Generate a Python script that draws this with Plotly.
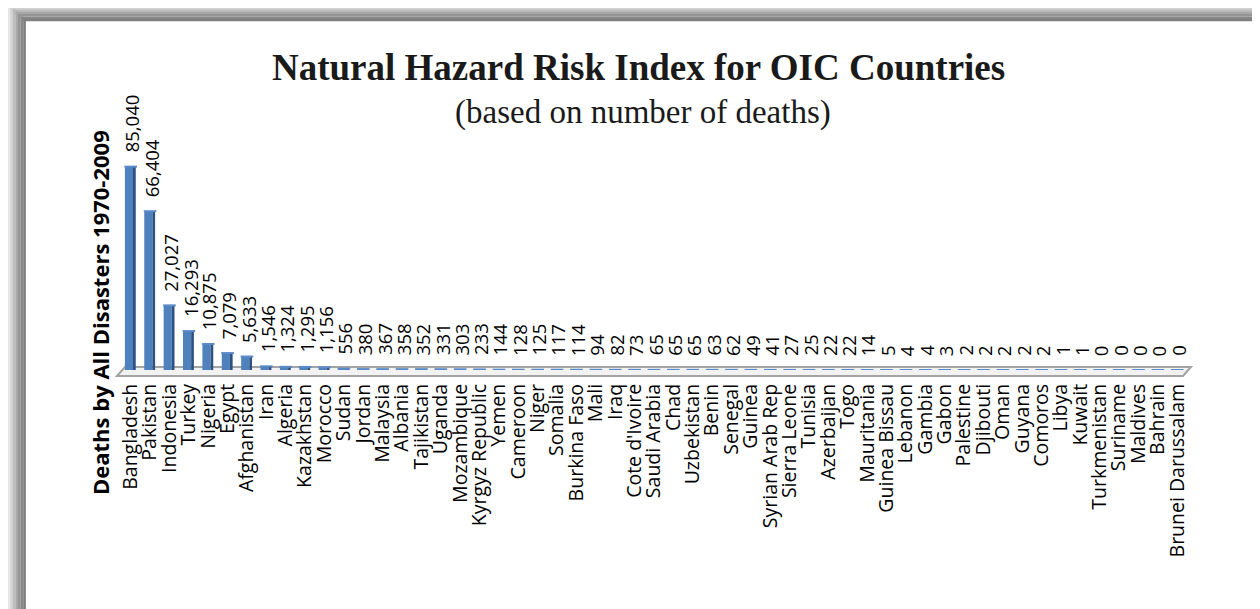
import plotly.graph_objects as go

countries = ["Bangladesh", "Pakistan", "Indonesia", "Turkey", "Nigeria", "Egypt",
             "Afghanistan", "Iran", "Algeria", "Kazakhstan", "Morocco", "Sudan",
             "Jordan", "Malaysia", "Albania", "Tajikistan", "Uganda", "Mozambique",
             "Kyrgyz Republic", "Yemen", "Cameroon", "Niger", "Somalia", "Burkina Faso",
             "Mali", "Iraq", "Cote d'Ivoire", "Saudi Arabia", "Chad", "Uzbekistan",
             "Benin", "Senegal", "Guinea", "Syrian Arab Rep", "Sierra Leone", "Tunisia",
             "Azerbaijan", "Togo", "Mauritania", "Guinea Bissau", "Lebanon", "Gambia",
             "Gabon", "Palestine", "Djibouti", "Oman", "Guyana", "Comoros", "Libya",
             "Kuwait", "Turkmenistan", "Suriname", "Maldives", "Bahrain",
             "Brunei Darussalam"]
deaths = [85040, 66404, 27027, 16293, 10875, 7079, 5633, 1546, 1324, 1295, 1156, 556,
          380, 367, 358, 352, 331, 303, 233, 144, 128, 125, 117, 114, 94, 82, 73, 65,
          65, 65, 63, 62, 49, 41, 27, 25, 22, 22, 14, 5, 4, 4, 3, 2, 2, 2, 2, 2, 1, 1,
          0, 0, 0, 0, 0]

title = "Natural Hazard Risk Index for OIC Countries"
subtitle = "(based on number of deaths)"
y_title = "Deaths by All Disasters 1970-2009"

# page size; the page body has an 8px margin so everything sits 8px lower/right
W, H = 1260, 609
OFF = 8
L, T = 121 - OFF, 150 - OFF
R = W - (1187 - OFF)
B = H - (370 - OFF)

def fx(px):
    # px = window pixel wanted in the screenshot
    return (px - OFF - L) / (W - L - R)

def fy(py):
    return (H - B - (py - OFF)) / (H - T - B)

fig = go.Figure()

# front face of the bars
fig.add_bar(x=countries, y=deaths, width=0.42, offset=-0.3,
            marker=dict(color="#4F81BD", line=dict(width=0)), hoverinfo="x+y")
# darker side face
fig.add_bar(x=countries, y=deaths, width=0.14, offset=0.12,
            marker=dict(color="#2C5182", line=dict(width=0)), hoverinfo="skip")
# top faces (these are what shows on the floor for tiny values)
fig.add_scatter(x=countries, y=deaths, mode="markers", hoverinfo="skip",
                marker=dict(symbol="line-ew", size=9,
                            line=dict(color="#5B8BC8", width=2)))

shapes = []
# frame shadow, left and top
greys = ["#f4f4f4", "#e6e6e6", "#d2d2d2", "#bdbdbd", "#a8a8a8", "#959595",
         "#888888", "#808080"]
for i, g in enumerate(greys):
    x0 = 5 + i * 2.6
    y0 = 2 + i * 2.4
    shapes.append(dict(type="rect", xref="paper", yref="paper", layer="above",
                       x0=fx(x0), x1=fx(x0 + 2.7), y0=fy(y0), y1=fy(H + 20),
                       fillcolor=g, line=dict(width=0)))
    shapes.append(dict(type="rect", xref="paper", yref="paper", layer="above",
                       x0=fx(x0), x1=fx(W + 20), y0=fy(y0), y1=fy(y0 + 2.5),
                       fillcolor=g, line=dict(width=0)))

# 3d floor under the bars
floor = "M {} {} L {} {} L {} {} L {} {} Z".format(
    fx(117), fy(376), fx(125), fy(367), fx(1191), fy(367), fx(1183), fy(376))
shapes.append(dict(type="path", xref="paper", yref="paper", layer="below", path=floor,
                   fillcolor="#F2F2F2", line=dict(color="#A3A3A3", width=2)))

annotations = [
    dict(text="<b>" + title + "</b>", x=fx(638), y=fy(67), xref="paper", yref="paper",
         showarrow=False, xanchor="center", yanchor="middle",
         font=dict(family="Liberation Serif", size=37, color="#1a1a1a")),
    dict(text=subtitle, x=fx(643), y=fy(112), xref="paper", yref="paper",
         showarrow=False, xanchor="center", yanchor="middle",
         font=dict(family="Liberation Serif", size=33, color="#1a1a1a")),
    dict(text="<b>" + y_title + "</b>", x=fx(100), y=fy(313), xref="paper", yref="paper",
         showarrow=False, textangle=-90, xanchor="center", yanchor="middle",
         font=dict(family="Open Sans", size=22, color="#000000")),
]
for c, v in zip(countries, deaths):
    annotations.append(dict(text=f"{v:,}", x=c, y=v, xref="x", yref="y",
                            showarrow=False, textangle=-90, xanchor="center",
                            yanchor="bottom", yshift=12, xshift=1,
                            font=dict(family="Open Sans", size=18.5, color="#000000")))

fig.update_layout(
    width=W, height=H,
    margin=dict(l=L, r=R, t=T, b=B, autoexpand=False),
    paper_bgcolor="white", plot_bgcolor="white",
    barmode="overlay", showlegend=False,
    shapes=shapes, annotations=annotations,
    xaxis=dict(tickangle=-90, showgrid=False, showline=False, zeroline=False,
               ticks="", ticklabelstandoff=9, range=[-0.5, len(countries) - 0.5],
               tickmode="array", tickvals=countries, ticktext=countries,
               automargin=False,
               tickfont=dict(family="Open Sans", size=19.5, color="#000000")),
    yaxis=dict(visible=False, range=[0, 92000]),
)

fig.write_html("out.html")
